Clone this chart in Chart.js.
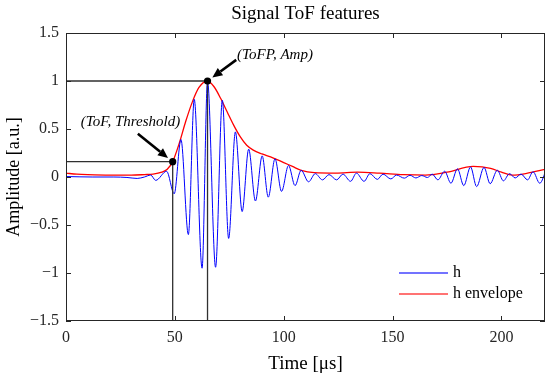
<!DOCTYPE html>
<html>
<head>
<meta charset="utf-8">
<script src="https://cdn.jsdelivr.net/npm/chart.js@4.4.1/dist/chart.umd.min.js"></script>
<style>
  html, body { margin: 0; padding: 0; background: #fff; }
  #wrap { width: 550px; height: 379px; }
</style>
</head>
<body>
<div id="wrap"><canvas id="chart" width="550" height="379"></canvas></div>
<script>
// signal h at its peaks and troughs (time in us)
const hTimes = [0, 12, 22, 28, 32.7, 36, 38.9, 41.2, 46.2, 49.7, 52.8, 56.2, 58.9, 62.5, 65.0,
  68.7, 71.8, 74.7, 77.8, 80.9, 83.9, 87.0, 90.1, 92.9, 96.0, 99.0, 102.2, 105.2, 108.0,
  111.4, 114.5, 117.8, 120.8, 124.3, 127.2, 130.7, 133.4, 136.9, 139.6, 143.0, 145.6, 149.2,
  151.8, 155.4, 158.0, 160.7, 163.4, 166.0, 168.2, 170.8, 173.9, 176.8, 179.8, 182.7, 185.8,
  188.6, 192.0, 194.8, 198.1, 200.9, 203.7, 206.3, 209.0, 212.0, 214.5, 217.6, 220.7];
const hValues = [0.005, 0, 0, -0.005, -0.015, 0, 0.02, -0.035, 0.06, -0.175, 0.39, -0.60, 0.81, -0.95, 1.0,
  -0.94, 0.80, -0.64, 0.47, -0.36, 0.29, -0.25, 0.22, -0.21, 0.19, -0.15, 0.12, -0.09, 0.07,
  -0.05, 0.035, -0.03, 0.025, -0.03, 0.03, -0.045, 0.04, -0.045, 0.035, -0.025, 0.03, -0.02,
  0.02, -0.012, 0.018, -0.01, 0.015, -0.005, 0.03, -0.03, 0.06, -0.065, 0.085, -0.09, 0.105,
  -0.1, 0.1, -0.07, 0.07, -0.04, 0.035, -0.01, 0.03, -0.03, 0.055, -0.065, 0.085];

// envelope of h
const envTimes = [0, 5, 10, 20, 30, 36, 40, 44, 46.5, 49, 52, 55, 58, 61, 65, 68, 71, 74, 77,
  80, 83, 86, 90, 95, 100, 104, 108, 114, 124, 134, 144, 155, 165, 175, 187, 195, 200, 205,
  212, 220];
const envValues = [0.04, 0.03, 0.025, 0.02, 0.02, 0.025, 0.03, 0.05, 0.08, 0.16, 0.35, 0.58, 0.78,
  0.93, 1.0, 0.94, 0.82, 0.68, 0.54, 0.42, 0.33, 0.28, 0.24, 0.2, 0.15, 0.11, 0.07, 0.045, 0.04,
  0.05, 0.04, 0.025, 0.02, 0.05, 0.11, 0.09, 0.05, 0.02, 0.04, 0.08];

// marked features
const markNames = ['(ToF, Threshold)', '(ToFP, Amp)'];
const markTimes = [49, 65];
const markValues = [0.16, 1];

const xTicks = [0, 50, 100, 150, 200];
const yTicks = [-1.5, -1, -0.5, 0, 0.5, 1, 1.5];

const chartTitle = 'Signal ToF features';
const serif = '"Liberation Serif", "DejaVu Serif", serif';
const frameColor = '#262626';

function toPoints(xs, ys) {
  return xs.map((x, i) => ({ x: x, y: ys[i] }));
}

// title over the plot box, frame with inward ticks, marks, arrows and legend
const decorations = {
  id: 'decorations',
  afterDatasetsDraw(chart) {
    const ctx = chart.ctx;
    const area = chart.chartArea;
    const xs = chart.scales.x;
    const ys = chart.scales.y;
    ctx.save();

    ctx.fillStyle = '#000';
    ctx.font = '19px ' + serif;
    ctx.textAlign = 'center';
    ctx.textBaseline = 'middle';
    ctx.fillText(chartTitle, (area.left + area.right) / 2, area.top - 19);

    // guide lines to the marked points
    ctx.strokeStyle = '#303030';
    ctx.lineWidth = 1.3;
    markTimes.forEach((t, i) => {
      const px = xs.getPixelForValue(t);
      const py = ys.getPixelForValue(markValues[i]);
      ctx.beginPath();
      ctx.moveTo(area.left, py);
      ctx.lineTo(px, py);
      ctx.moveTo(px, area.bottom);
      ctx.lineTo(px, py);
      ctx.stroke();
    });

    // arrows and labels (tail and label placed in data units)
    const arrowTails = [[33, 0.45], [78.2, 1.22]];
    const labelSpots = [[29.6, 0.57], [96, 1.27]];
    markTimes.forEach((t, i) => {
      const hx = xs.getPixelForValue(t);
      const hy = ys.getPixelForValue(markValues[i]);
      const tx = xs.getPixelForValue(arrowTails[i][0]);
      const ty = ys.getPixelForValue(arrowTails[i][1]);
      const ang = Math.atan2(hy - ty, hx - tx);
      const ex = hx - 6 * Math.cos(ang);
      const ey = hy - 6 * Math.sin(ang);
      const bx = ex - 10 * Math.cos(ang);
      const by = ey - 10 * Math.sin(ang);
      ctx.strokeStyle = '#000';
      ctx.lineWidth = 2.6;
      ctx.beginPath();
      ctx.moveTo(tx, ty);
      ctx.lineTo(bx, by);
      ctx.stroke();
      ctx.fillStyle = '#000';
      ctx.beginPath();
      ctx.moveTo(ex, ey);
      ctx.lineTo(bx + 4.5 * Math.sin(ang), by - 4.5 * Math.cos(ang));
      ctx.lineTo(bx - 4.5 * Math.sin(ang), by + 4.5 * Math.cos(ang));
      ctx.closePath();
      ctx.fill();

      ctx.font = 'italic 15px ' + serif;
      ctx.textAlign = 'center';
      ctx.textBaseline = 'middle';
      ctx.fillText(markNames[i], xs.getPixelForValue(labelSpots[i][0]), ys.getPixelForValue(labelSpots[i][1]));

      ctx.beginPath();
      ctx.arc(hx, hy, 3.6, 0, Math.PI * 2);
      ctx.fill();
    });

    // frame
    ctx.strokeStyle = frameColor;
    ctx.lineWidth = 1;
    ctx.strokeRect(area.left + 0.5, area.top + 0.5, area.right - area.left - 1, area.bottom - area.top - 1);
    ctx.beginPath();
    xTicks.forEach(v => {
      const px = Math.round(xs.getPixelForValue(v)) + 0.5;
      ctx.moveTo(px, area.bottom);
      ctx.lineTo(px, area.bottom - 5);
      ctx.moveTo(px, area.top);
      ctx.lineTo(px, area.top + 5);
    });
    yTicks.forEach(v => {
      const py = Math.round(ys.getPixelForValue(v)) + 0.5;
      ctx.moveTo(area.left, py);
      ctx.lineTo(area.left + 5, py);
      ctx.moveTo(area.right, py);
      ctx.lineTo(area.right - 5, py);
    });
    ctx.stroke();

    // legend
    const lx = area.right - 146;
    chart.data.datasets.forEach((ds, i) => {
      const ly = area.bottom - 48 + i * 21;
      ctx.strokeStyle = ds.borderColor;
      ctx.globalAlpha = 0.55;
      ctx.lineWidth = 2;
      ctx.beginPath();
      ctx.moveTo(lx, ly);
      ctx.lineTo(lx + 49, ly);
      ctx.stroke();
      ctx.globalAlpha = 1;
      ctx.fillStyle = '#000';
      ctx.font = '16px ' + serif;
      ctx.textAlign = 'left';
      ctx.textBaseline = 'middle';
      ctx.fillText(ds.label, lx + 54, ly);
    });

    ctx.restore();
  }
};

new Chart(document.getElementById('chart'), {
  type: 'line',
  data: {
    datasets: [
      {
        label: 'h',
        data: toPoints(hTimes, hValues),
        borderColor: '#0000ff',
        borderWidth: 1,
        pointRadius: 0,
        cubicInterpolationMode: 'monotone',
        fill: false
      },
      {
        label: 'h envelope',
        data: toPoints(envTimes, envValues),
        borderColor: '#ff0000',
        borderWidth: 1.3,
        pointRadius: 0,
        cubicInterpolationMode: 'monotone',
        fill: false
      }
    ]
  },
  options: {
    responsive: false,
    animation: false,
    layout: { padding: { top: 33, right: 5, left: 0, bottom: 0 } },
    plugins: {
      legend: { display: false },
      tooltip: { enabled: false },
      title: { display: false }
    },
    scales: {
      x: {
        type: 'linear',
        min: 0,
        max: 220,
        grid: { display: false, drawTicks: false },
        border: { display: false },
        afterBuildTicks: scale => { scale.ticks = xTicks.map(v => ({ value: v })); },
        ticks: { color: frameColor, padding: 7, font: { family: serif, size: 16 }, maxRotation: 0 },
        title: { display: true, text: 'Time [μs]', color: '#000', font: { family: serif, size: 19 }, padding: { top: 3 } },
        afterFit: scale => { scale.height = 58; }
      },
      y: {
        min: -1.5,
        max: 1.5,
        grid: { display: false, drawTicks: false },
        border: { display: false },
        afterBuildTicks: scale => { scale.ticks = yTicks.map(v => ({ value: v })); },
        ticks: {
          color: frameColor,
          padding: 7,
          font: { family: serif, size: 16 },
          callback: v => (v < 0 ? '\u2212' + Math.abs(v) : String(v))
        },
        title: { display: true, text: 'Amplitude [a.u.]', color: '#000', font: { family: serif, size: 18 }, padding: { top: 3 } },
        afterFit: scale => { scale.width = 66; }
      }
    }
  },
  plugins: [decorations]
});
</script>
</body>
</html>
